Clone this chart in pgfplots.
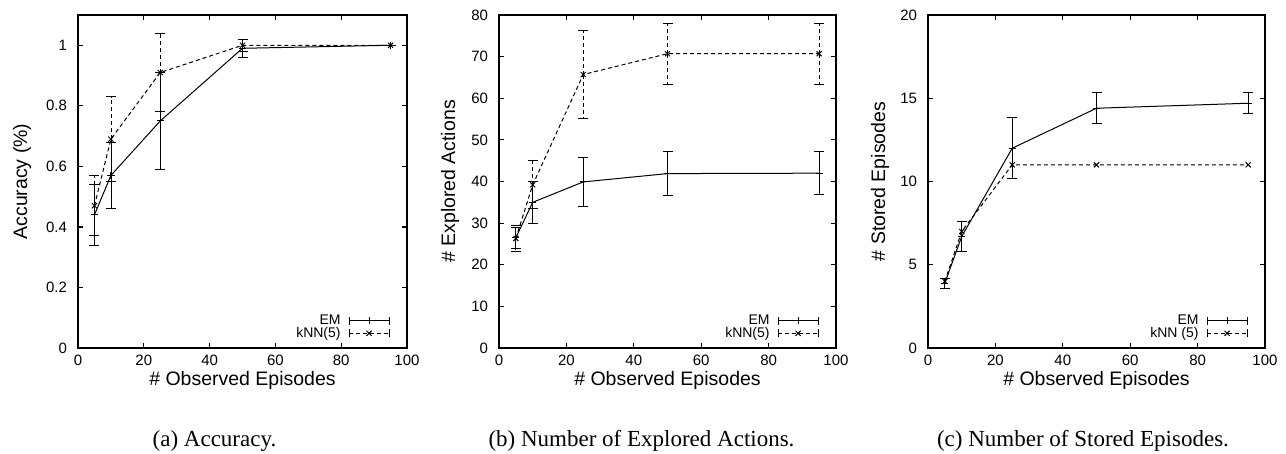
\documentclass[border=0pt]{standalone}
\usepackage{fontspec}
\setmainfont{Liberation Serif}
\setsansfont{Liberation Sans}
\usepackage{pgfplots}
\pgfplotsset{compat=1.18}

\newcommand{\ticksize}{\sffamily\fontsize{7.5}{8}\selectfont}
\newcommand{\labsize}{\sffamily\fontsize{9.75}{11}\selectfont}
\newcommand{\legsize}{\sffamily\fontsize{7}{8}\selectfont}

\pgfplotsset{
  gp/.style={
    scale only axis,
    height=166.5pt,
    anchor=south west,
    xmin=0, xmax=100, xtick={0,20,40,60,80,100},
    ymin=0,
    tick align=inside, tick pos=both, ticklabel pos=left,
    major tick length=2.5pt,
    axis line style={line width=0.8pt},
    every tick/.style={black,line width=0.6pt},
    tick label style={font=\ticksize},
    yticklabel style={xshift=-2pt},
    label style={font=\labsize},
    /pgf/number format/assume math mode=true,
    xlabel={\# Observed Episodes},
    xlabel style={at={(axis description cs:0.5,0)},anchor=center,yshift=-16pt},
    legend style={at={(axis description cs:1,0)},anchor=south east,
      xshift=-8.5pt,yshift=4pt,draw=none,fill=none,font=\legsize,
      inner sep=0pt,column sep=4pt,
      nodes={inner sep=0pt,text height=5pt,text depth=1.25pt}},
    legend cell align=right,
    legend plot pos=right,
    clip=false,
  },
  em/.style={black,line width=0.5pt,mark=+,mark size=1.8pt,
    error bars/.cd,y dir=both,y explicit,
    error mark options={rotate=90,line width=0.5pt,mark size=2.5pt,solid},
    /pgfplots/.cd,
    legend image code/.code={
      \draw[##1,mark repeat=2,mark phase=2] plot coordinates {(0pt,0pt) (10pt,0pt) (20pt,0pt)};
      \draw[solid,line width=0.5pt] (0pt,-2pt)--(0pt,2pt) (20pt,-2pt)--(20pt,2pt);
    }},
  knn/.style={black,line width=0.5pt,dash pattern=on 2pt off 1.5pt,
    mark=x,mark size=1.8pt,mark options={solid},
    error bars/.cd,y dir=both,y explicit,
    error mark options={rotate=90,line width=0.5pt,mark size=2.5pt,solid},
    /pgfplots/.cd,
    legend image code/.code={
      \draw[##1,mark repeat=2,mark phase=2] plot coordinates {(0pt,0pt) (10pt,0pt) (20pt,0pt)};
      \draw[solid,line width=0.5pt] (0pt,-2pt)--(0pt,2pt) (20pt,-2pt)--(20pt,2pt);
    }},
}

\begin{document}
\begin{tikzpicture}
\path[use as bounding box] (0,0) rectangle (643pt,227pt);

% (a) accuracy
\begin{axis}[gp, at={(39pt,53pt)}, width=164.5pt,
    ymax=1.1, ytick={0,0.2,0.4,0.6,0.8,1},
    ylabel={Accuracy (\%)},
    ylabel style={at={(axis description cs:-0.17,0.5)},anchor=center}]
\addplot[em] coordinates {
    (5,0.44) +- (0,0.10)
    (10,0.57) +- (0,0.11)
    (25,0.75) +- (0,0.16)
    (50,0.99) +- (0,0.03)
    (95,1.0) +- (0,0)
};
\addlegendentry{EM}
\addplot[knn] coordinates {
    (5,0.47) +- (0,0.10)
    (10,0.69) +- (0,0.14)
    (25,0.91) +- (0,0.13)
    (50,1.0) +- (0,0.02)
    (95,1.0) +- (0,0)
};
\addlegendentry{kNN(5)}
\end{axis}

% (b) explored actions
\begin{axis}[gp, at={(249.5pt,53pt)}, width=168.5pt,
    ymax=80, ytick={0,10,20,30,40,50,60,70,80},
    ylabel={\# Explored Actions},
    ylabel style={at={(axis description cs:-0.145,0.5)},anchor=center}]
\addplot[em] coordinates {
    (5,26.5) +- (0,2.5)
    (10,35.0) +- (0,5.1)
    (25,39.9) +- (0,5.8)
    (50,41.9) +- (0,5.3)
    (95,42.0) +- (0,5.2)
};
\addlegendentry{EM}
\addplot[knn] coordinates {
    (5,26.3) +- (0,3.1)
    (10,39.2) +- (0,5.8)
    (25,65.7) +- (0,10.6)
    (50,70.7) +- (0,7.3)
    (95,70.7) +- (0,7.3)
};
\addlegendentry{kNN(5)}
\end{axis}

% (c) stored episodes
\begin{axis}[gp, at={(464pt,53pt)}, width=168.5pt,
    ymax=20, ytick={0,5,10,15,20},
    ylabel={\# Stored Episodes},
    ylabel style={at={(axis description cs:-0.142,0.5)},anchor=center}]
\addplot[em] coordinates {
    (5,3.9) +- (0,0.3)
    (10,6.7) +- (0,0.9)
    (25,12.0) +- (0,1.83)
    (50,14.4) +- (0,0.93)
    (95,14.7) +- (0,0.63)
};
\addlegendentry{EM}
\addplot[knn,error bars/y dir=none] coordinates {
    (5,4.0) (10,7.0) (25,11.0) (50,11.0) (95,11.0)
};
\addlegendentry{kNN (5)}
\end{axis}

\node[font=\fontsize{11.5}{13}\selectfont,anchor=base] at (107.25pt,3.5pt) {(a) Accuracy.};
\node[font=\fontsize{11.5}{13}\selectfont,anchor=base] at (320.75pt,3.5pt) {(b) Number of Explored Actions.};
\node[font=\fontsize{11.5}{13}\selectfont,anchor=base] at (541.5pt,3.5pt) {(c) Number of Stored Episodes.};
\end{tikzpicture}
\end{document}
